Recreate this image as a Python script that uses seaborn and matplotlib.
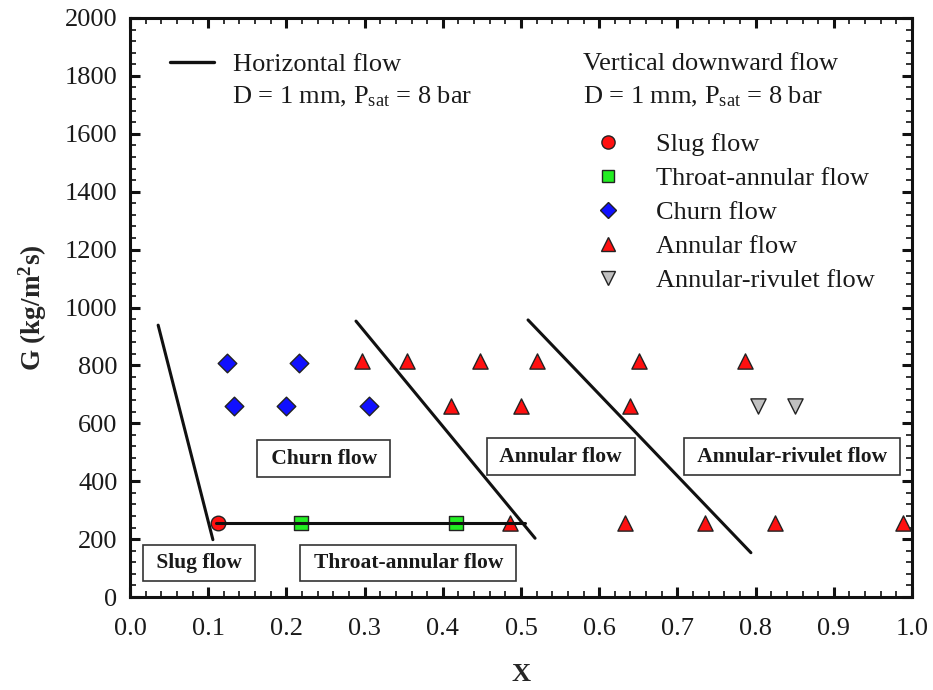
import numpy as np
import pandas as pd
import matplotlib
matplotlib.use("Agg")
import matplotlib.pyplot as plt
from matplotlib.lines import Line2D
from matplotlib.ticker import MultipleLocator
import seaborn as sns

# ---- data ----
slug_x = [0.112]
slug_g = [255]
throat_x = [0.219, 0.417]
throat_g = [255, 255]
churn_x = [0.124, 0.216, 0.133, 0.199, 0.305]
churn_g = [810, 810, 660, 660, 660]
annular_x = [0.297, 0.354, 0.448, 0.521, 0.651, 0.786,
             0.410, 0.500, 0.640,
             0.486, 0.633, 0.735, 0.825, 0.988]
annular_g = [815, 815, 815, 815, 815, 815,
             660, 660, 660,
             255, 255, 255, 255, 255]
rivulet_x = [0.803, 0.850]
rivulet_g = [660, 660]

# horizontal-flow transition lines
trans_slug_x = [0.036, 0.106]
trans_slug_g = [939, 198]
trans_churn_x = [0.289, 0.518]
trans_churn_g = [953, 203]
trans_annular_x = [0.509, 0.794]
trans_annular_g = [957, 153]
trans_throat_x = [0.110, 0.505]
trans_throat_g = [255, 255]

regime_labels = ["Slug flow", "Throat-annular flow", "Churn flow",
                 "Annular flow", "Annular-rivulet flow"]
region_labels = ["Slug flow", "Throat-annular flow", "Churn flow",
                 "Annular flow", "Annular-rivulet flow"]
region_x = [0.088, 0.356, 0.248, 0.551, 0.847]
region_g = [118, 118, 478, 485, 485]

x_ticks = [0.0, 0.1, 0.2, 0.3, 0.4, 0.5, 0.6, 0.7, 0.8, 0.9, 1.0]
y_ticks = [0, 200, 400, 600, 800, 1000, 1200, 1400, 1600, 1800, 2000]

# ---- build table ----
frames = []
for lab, xs, gs in zip(regime_labels,
                       [slug_x, throat_x, churn_x, annular_x, rivulet_x],
                       [slug_g, throat_g, churn_g, annular_g, rivulet_g]):
    frames.append(pd.DataFrame({"x": xs, "G": gs, "regime": lab}))
df = pd.concat(frames, ignore_index=True)

palette = {"Slug flow": "#ff1010", "Throat-annular flow": "#22ee22",
           "Churn flow": "#1010ff", "Annular flow": "#ff1010",
           "Annular-rivulet flow": "#c0c0c0"}
markers = {"Slug flow": "o", "Throat-annular flow": "s",
           "Churn flow": "D", "Annular flow": "^",
           "Annular-rivulet flow": "v"}
sizes = {"Slug flow": 110, "Throat-annular flow": 95,
         "Churn flow": 90, "Annular flow": 120,
         "Annular-rivulet flow": 120}

sns.set_theme(style="white")
plt.rcParams["font.family"] = ["Liberation Serif", "DejaVu Serif"]
plt.rcParams["mathtext.fontset"] = "custom"
plt.rcParams["mathtext.rm"] = "Liberation Serif"
plt.rcParams["mathtext.bf"] = "Liberation Serif:bold"
plt.rcParams["mathtext.it"] = "Liberation Serif:italic"

FS = 19

fig = plt.figure(figsize=(9.33, 6.90), dpi=100)
ax = fig.add_axes([130 / 933, 1 - 597 / 690, (912 - 130) / 933, (597 - 18) / 690])

for lab in regime_labels:
    sub = df[df["regime"] == lab]
    sns.scatterplot(data=sub, x="x", y="G", ax=ax, color=palette[lab],
                    marker=markers[lab], s=sizes[lab], edgecolor="#222222",
                    linewidth=1.0, legend=False, zorder=3)

for xs, gs in [(trans_slug_x, trans_slug_g), (trans_churn_x, trans_churn_g),
               (trans_annular_x, trans_annular_g), (trans_throat_x, trans_throat_g)]:
    sns.lineplot(x=xs, y=gs, ax=ax, color="#111111", linewidth=2.2,
                 sort=False, estimator=None, zorder=4)

for lab, xv, gv in zip(region_labels, region_x, region_g):
    ax.text(xv, gv, " " + lab + " ", ha="center", va="center", fontsize=15.5,
            fontweight="bold", color="#1a1a1a", zorder=5,
            bbox=dict(boxstyle="square,pad=0.38", facecolor="white",
                      edgecolor="#333333", linewidth=1.2))

ax.set_xlim(0, 1.0)
ax.set_ylim(0, 2000)
ax.set_xticks(x_ticks)
ax.set_xticklabels([f"{v:.1f}" for v in x_ticks])
ax.set_yticks(y_ticks)
ax.set_yticklabels([str(v) for v in y_ticks])
ax.xaxis.set_minor_locator(MultipleLocator(0.02))
ax.yaxis.set_minor_locator(MultipleLocator(40))
ax.tick_params(which="both", direction="in", top=True, right=True,
               bottom=True, left=True, colors="#111111", labelsize=FS,
               labelcolor="#1a1a1a")
ax.tick_params(which="major", length=7, width=2.2)
ax.tick_params(which="minor", length=4, width=1.2)
ax.tick_params(axis="x", which="major", pad=15)
ax.tick_params(axis="y", which="major", pad=9)
for sp in ax.spines.values():
    sp.set_linewidth(2.2)
    sp.set_color("#111111")

ax.set_xlabel("X", fontsize=FS, fontweight="bold", labelpad=17)
ax.set_ylabel(r"G (kg/m$^\mathbf{2}$s)", fontsize=FS + 0.5, fontweight="bold",
              labelpad=11)

# legends
h1 = [Line2D([0], [0], color="#111111", linewidth=2.4)]
leg1 = ax.legend(h1, ["Horizontal flow"], loc="upper left",
                 bbox_to_anchor=(0.038, 0.958), frameon=False, fontsize=FS,
                 handlelength=1.65, handletextpad=0.73, borderaxespad=0)
for t in leg1.get_texts():
    t.set_color("#1a1a1a")
ax.add_artist(leg1)
ax.text(0.130, 0.864, r"D = 1 mm, P$_\mathrm{sat}$ = 8 bar",
        transform=ax.transAxes, fontsize=FS, ha="left", va="center",
        color="#1a1a1a")
ax.text(0.579, 0.921, "Vertical downward flow", transform=ax.transAxes,
        fontsize=FS, ha="left", va="center", color="#1a1a1a")
ax.text(0.579, 0.864, r"D = 1 mm, P$_\mathrm{sat}$ = 8 bar",
        transform=ax.transAxes, fontsize=FS, ha="left", va="center",
        color="#1a1a1a")

msz = {"Slug flow": 9.5, "Throat-annular flow": 8.5, "Churn flow": 8.5,
       "Annular flow": 10, "Annular-rivulet flow": 10}
h2 = [Line2D([0], [0], linestyle="none", marker=markers[l],
             markerfacecolor=palette[l], markeredgecolor="#222222",
             markeredgewidth=1.0, markersize=msz[l]) for l in regime_labels]
leg2 = ax.legend(h2, regime_labels, loc="upper left",
                 bbox_to_anchor=(0.571, 0.820), frameon=False, fontsize=FS,
                 handlelength=1.6, handletextpad=1.0, labelspacing=0.395,
                 borderaxespad=0)
for t in leg2.get_texts():
    t.set_color("#1a1a1a")

fig.savefig("out.png", dpi=100)
